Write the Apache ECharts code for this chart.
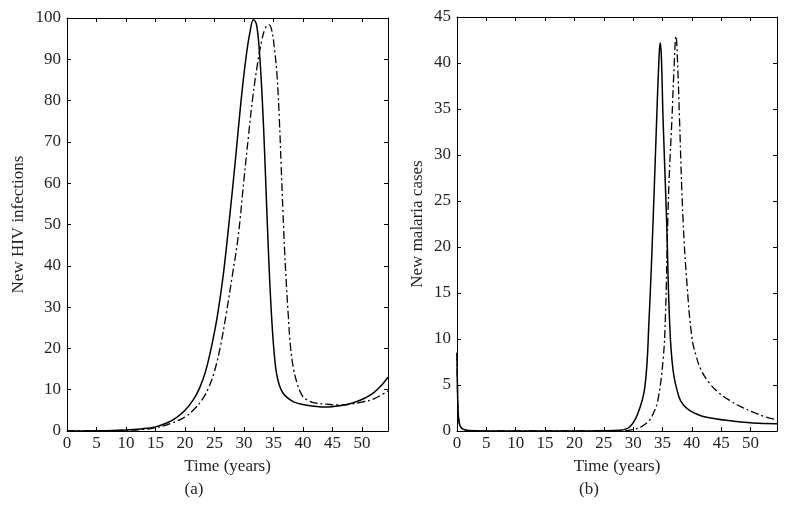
<!DOCTYPE html>
<html>
<head>
<meta charset="utf-8">
<script src="https://cdn.jsdelivr.net/npm/echarts@6/dist/echarts.min.js"></script>
<style>
html,body{margin:0;padding:0;background:#fff;}
#chart{width:788px;height:516px;}
</style>
</head>
<body>
<div id="chart"></div>
<script>
// ---- Panel (a): New HIV infections ----
var hivSolidT = [0,5,10,12.5,15,17,18.5,20,21.5,22.5,23.5,24.5,25.5,26.5,27.5,28.5,29.5,30.3,31,31.6,32.1,32.6,33.1,33.5,33.9,34.3,34.7,35.1,35.5,36,36.6,37.5,38.5,40,42,43.5,45,47,49,50.5,52,53.5,54.4];
var hivSolidV = [0,0.05,0.25,0.5,1.0,2.0,3.2,5.0,7.8,10.5,14.5,20.5,28,38,51,65,80,90,96.5,99.6,98.5,92,80,67,52,38,27,19,14,11,9.2,7.9,7.0,6.4,6.0,5.8,5.9,6.3,7.1,8.0,9.3,11.4,13.0];
var hivDashT = [0,5,10,12.5,15,17.5,20,21.5,23,24,25,26,27,28,29,30,30.8,31.5,32.3,33,33.6,34.2,34.7,35.2,35.6,36,36.3,36.6,36.9,37.2,37.5,37.9,38.4,39,39.4,40,41,42,44,46,48,50,52,54.4];
var hivDashV = [0,0.03,0.15,0.35,0.8,1.8,3.4,5.2,7.8,10.5,14.5,20.5,28.5,37.5,47,61,72,81,89,94.5,97.5,98.4,97,92,86,75,64,53,43,35,28,20,15,11.5,9.9,8.3,7.3,6.8,6.5,6.3,6.5,7.0,7.8,9.7];

// ---- Panel (b): New malaria cases ----
var malSolidT = [0,0.1,0.25,0.5,1,2,5,10,20,25,27.7,29.4,30.8,32,32.7,33.4,34.0,34.4,34.6,34.8,35.1,35.7,36.2,36.8,37.8,38.6,39.6,41,42.5,45.9,50.4,54.5];
var malSolidV = [8.5,4,1.5,0.6,0.2,0.05,0.01,0,0,0.02,0.08,0.44,1.9,4.8,12,22.9,33.8,40.5,42.2,40.8,33.8,22.9,12,6.6,3.7,2.8,2.25,1.8,1.5,1.16,0.87,0.8];
var malDashT = [0,0.1,0.25,0.5,1,2,5,10,20,28,30,31.5,32.8,33.5,34.2,35.1,35.5,35.9,36.2,36.6,36.9,37.3,37.6,37.9,38.5,39.2,40.0,40.7,41.6,43,44.5,46.5,48.5,50.4,52.5,54.5];
var malDashV = [8.5,4,1.5,0.6,0.2,0.05,0.01,0,0,0,0.15,0.5,1.2,2,3.3,7.7,12.5,22.9,28.5,33.8,38.5,42.9,39.5,33.8,22.9,15.7,10.2,8.2,6.6,5.2,4.2,3.3,2.6,2.05,1.55,1.2];

var xTicksMax = [54.4, 54.5];
var panelLabels = ['(a)', '(b)'];
var yTitles = ['New HIV infections', 'New malaria cases'];
var xTitle = 'Time (years)';

function zip(t, v) { return t.map(function (x, i) { return [x, v[i]]; }); }

var FONT = 'Liberation Serif';
var TXT = '#231f20';
var FS = 17;

function xAx(grid, max, pos, labels) {
  return {
    type: 'value', gridIndex: grid, position: pos, min: 0, max: max, interval: 5,
    name: labels ? xTitle : '', nameLocation: 'middle', nameGap: 27,
    nameTextStyle: { fontFamily: FONT, fontSize: FS, color: TXT },
    axisLine: { show: true, onZero: false, lineStyle: { color: '#000', width: 1 } },
    axisTick: { show: true, inside: true, length: 4, lineStyle: { color: '#000' } },
    axisLabel: { show: labels, showMaxLabel: false, margin: 4, fontFamily: FONT, fontSize: FS, color: TXT },
    splitLine: { show: false }
  };
}
function yAx(grid, max, interval, pos, labels, title, gap) {
  return {
    type: 'value', gridIndex: grid, position: pos, min: 0, max: max, interval: interval,
    name: labels ? title : '', nameLocation: 'middle', nameGap: gap,
    nameTextStyle: { fontFamily: FONT, fontSize: FS, color: TXT },
    axisLine: { show: true, onZero: false, lineStyle: { color: '#000', width: 1 } },
    axisTick: { show: true, inside: true, length: 4, lineStyle: { color: '#000' } },
    axisLabel: { show: labels, margin: 6, fontFamily: FONT, fontSize: FS, color: TXT },
    splitLine: { show: false }
  };
}

var solidStyle = { color: '#000', width: 1.5, type: 'solid' };
var dashStyle = { color: '#000', width: 1.3, type: [8, 3, 2, 3] };

function line(xi, yi, data, style) {
  return {
    type: 'line', xAxisIndex: xi, yAxisIndex: yi, data: data,
    showSymbol: false, symbol: 'none', smooth: 0.4,
    lineStyle: style, silent: true, animation: false, clip: true
  };
}

var chart = echarts.init(document.getElementById('chart'), null, { renderer: 'canvas' });
chart.setOption({
  backgroundColor: '#fff',
  animation: false,
  grid: [
    { left: 67, top: 18, width: 321, height: 413 },
    { left: 457, top: 17, width: 320, height: 414 }
  ],
  xAxis: [
    xAx(0, xTicksMax[0], 'bottom', true),
    xAx(0, xTicksMax[0], 'top', false),
    xAx(1, xTicksMax[1], 'bottom', true),
    xAx(1, xTicksMax[1], 'top', false)
  ],
  yAxis: [
    yAx(0, 100, 10, 'left', true, yTitles[0], 40),
    yAx(0, 100, 10, 'right', false, '', 0),
    yAx(1, 45, 5, 'left', true, yTitles[1], 31),
    yAx(1, 45, 5, 'right', false, '', 0)
  ],
  series: [
    line(0, 0, zip(hivDashT, hivDashV), dashStyle),
    line(0, 0, zip(hivSolidT, hivSolidV), solidStyle),
    line(2, 2, zip(malDashT, malDashV), dashStyle),
    line(2, 2, zip(malSolidT, malSolidV), solidStyle)
  ],
  graphic: [
    { type: 'text', x: 194, y: 481, style: { text: panelLabels[0], fontFamily: FONT, fontSize: FS, fill: TXT, textAlign: 'center' } },
    { type: 'text', x: 589, y: 481, style: { text: panelLabels[1], fontFamily: FONT, fontSize: FS, fill: TXT, textAlign: 'center' } }
  ]
});
</script>
</body>
</html>
